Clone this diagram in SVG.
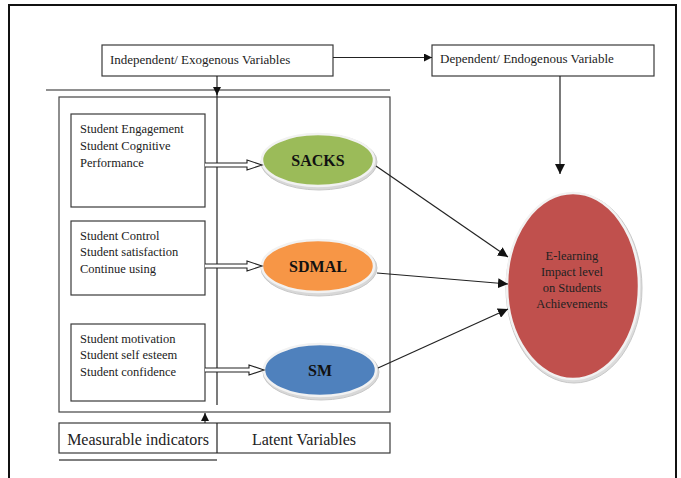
<svg xmlns="http://www.w3.org/2000/svg" width="681" height="478" viewBox="0 0 681 478">
<defs>
<style>
.bx{fill:#fff;stroke:#3a3a3a;stroke-width:1.2}
.ln{fill:none;stroke:#222;stroke-width:1.2}
.t{font-size:12.5px;fill:#222}
.th{font-size:13px;fill:#222}
.tb{font-size:16px;font-weight:bold;fill:#111;text-anchor:middle}
.tl{font-size:16px;fill:#222;text-anchor:middle}
.bev{fill:#d8d8d8;stroke:#c8c8c8;stroke-width:1}
.hol{fill:#fff;stroke:#222;stroke-width:1.1}
</style>
<marker id="ah" viewBox="0 0 10 10" refX="10" refY="5" markerWidth="8" markerHeight="8" markerUnits="userSpaceOnUse" orient="auto">
<path d="M0,0 L10,5 L0,10 z" fill="#111"/>
</marker>
<marker id="ah2" viewBox="0 0 10 10" refX="10" refY="5" markerWidth="10" markerHeight="10" markerUnits="userSpaceOnUse" orient="auto">
<path d="M0,0 L10,5 L0,10 z" fill="#111"/>
</marker>
</defs>
<rect width="681" height="478" fill="#fff"/>
<rect x="9" y="5" width="667" height="490" fill="none" stroke="#111" stroke-width="2"/>
<g font-family="'Liberation Serif', 'Times New Roman', serif">
<g id="independent">
<rect class="bx" x="102" y="45" width="231" height="31"/>
<text class="th" x="110" y="64">Independent/ Exogenous Variables</text>
</g>
<g id="dependent">
<rect class="bx" x="432" y="45" width="222" height="31"/>
<text class="th" x="440" y="63">Dependent/ Endogenous Variable</text>
</g>

<g id="frame">
<line class="ln" x1="46" y1="90" x2="390" y2="90"/>
<rect x="59" y="97" width="331" height="315" fill="none" stroke="#444" stroke-width="1.2"/>
<line class="ln" x1="217" y1="90" x2="217" y2="405"/>
</g>

<g id="ind1">
<rect class="bx" x="71" y="114" width="134" height="93"/>
<text class="t" x="80" y="133">Student Engagement</text>
<text class="t" x="80" y="150">Student Cognitive</text>
<text class="t" x="80" y="167">Performance</text>
</g>
<g id="ind2">
<rect class="bx" x="71" y="221" width="134" height="74"/>
<text class="t" x="80" y="240">Student Control</text>
<text class="t" x="80" y="256">Student satisfaction</text>
<text class="t" x="80" y="273">Continue using</text>
</g>
<g id="ind3">
<rect class="bx" x="71" y="324" width="134" height="77"/>
<text class="t" x="80" y="343">Student motivation</text>
<text class="t" x="80" y="359">Student self esteem</text>
<text class="t" x="80" y="376">Student confidence</text>
</g>

<g id="sacks">
<ellipse class="bev" cx="319" cy="162" rx="58" ry="28"/>
<ellipse cx="318" cy="160" rx="56" ry="26" fill="#9bbb59" stroke="#f2f2f2" stroke-width="2.5"/>
<text class="tb" x="318" y="166">SACKS</text>
</g>
<g id="sdmal">
<ellipse class="bev" cx="319" cy="268" rx="58" ry="28"/>
<ellipse cx="318" cy="266" rx="56" ry="26" fill="#f79646" stroke="#f2f2f2" stroke-width="2.5"/>
<text class="tb" x="318" y="272">SDMAL</text>
</g>
<g id="sm">
<ellipse class="bev" cx="321" cy="372" rx="58" ry="28"/>
<ellipse cx="320" cy="370" rx="56" ry="26" fill="#4f81bd" stroke="#f2f2f2" stroke-width="2.5"/>
<text class="tb" x="320" y="376">SM</text>
</g>

<g id="outcome">
<ellipse cx="574" cy="288" rx="68" ry="95" fill="#dcdcdc" stroke="#c8c8c8"/>
<ellipse cx="573" cy="286" rx="66" ry="93" fill="#c0504d" stroke="#f2f2f2" stroke-width="2.5"/>
<text class="t" x="572" y="260" text-anchor="middle">E-learning</text>
<text class="t" x="572" y="276" text-anchor="middle">Impact level</text>
<text class="t" x="572" y="292" text-anchor="middle">on Students</text>
<text class="t" x="572" y="308" text-anchor="middle">Achievements</text>
</g>

<g id="labels">
<rect class="bx" x="59" y="423" width="331" height="30"/>
<line class="ln" x1="217" y1="423" x2="217" y2="453"/>
<text class="tl" x="138" y="445">Measurable indicators</text>
<text class="tl" x="304" y="445">Latent Variables</text>
<line x1="59" y1="460" x2="217" y2="460" stroke="#555" stroke-width="1.5"/>
</g>
</g>
<g id="connectors">
<line class="ln" x1="333" y1="57.5" x2="432" y2="57.5" marker-end="url(#ah)"/>
<line class="ln" x1="217" y1="76" x2="217" y2="95" marker-end="url(#ah)"/>
<line class="ln" x1="560" y1="76" x2="560" y2="174" marker-end="url(#ah2)"/>
<line class="ln" x1="205" y1="423" x2="205" y2="413" marker-end="url(#ah)"/>
<line class="ln" x1="376" y1="166" x2="508" y2="257" marker-end="url(#ah2)"/>
<line class="ln" x1="377" y1="273" x2="508" y2="284" marker-end="url(#ah2)"/>
<line class="ln" x1="378" y1="368" x2="508" y2="309" marker-end="url(#ah2)"/>
<path class="hol" d="M205,163 H247 V160 L262,165 L247,170 V167 H205"/>
<path class="hol" d="M205,264 H247 V261 L262,266 L247,271 V268 H205"/>
<path class="hol" d="M205,368 H249 V365 L264,370 L249,375 V372 H205"/>
</g>
</svg>
